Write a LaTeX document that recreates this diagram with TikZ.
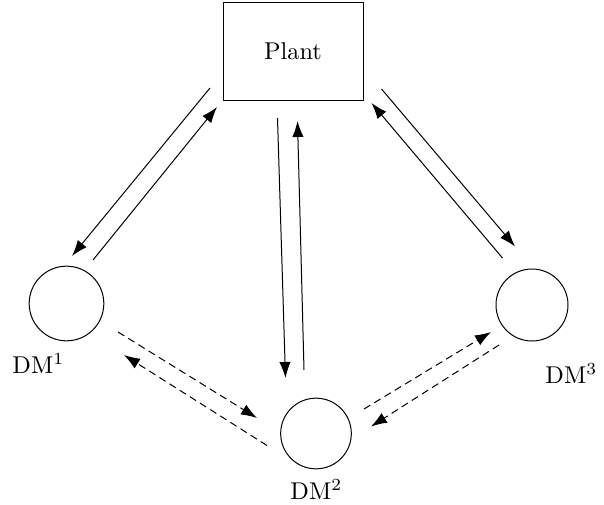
\documentclass[tikz,border=0pt]{standalone}
\usetikzlibrary{arrows.meta}

\tikzset{
  lbl/.style={scale=1.82, inner sep=0pt},
  dm/.style={circle, draw, line width=0.75pt, inner sep=0pt},
  flow/.style={line width=0.75pt, -{Latex[length=12pt,width=8.5pt]}},
  msg/.style={flow, dash pattern=on 5.5pt off 3.5pt}
}

\begin{document}
\begin{tikzpicture}[x=0.75pt, y=-0.75pt]
  \useasboundingbox (0,0) rectangle (604,504);

  % plant and decision makers
  \node[draw, line width=0.75pt, minimum width=105pt, minimum height=73.5pt,
        inner sep=0pt] (plant) at (293,51) {};
  \node[lbl] (pl) at (plant.center) {Plant};
  \node[dm, minimum size=56pt] (dm1) at (66.5,303.5) {};
  \node[dm, minimum size=53pt] (dm2) at (316,433.5) {};
  \node[dm, minimum size=54pt] (dm3) at (532,305) {};

  \node[lbl, anchor=base west] (l1) at (12,373) {DM$^1$};
  \node[lbl, anchor=base west] (l2) at (290,499) {DM$^2$};
  \node[lbl, anchor=base west] (l3) at (545,383) {DM$^3$};

  % end points of the links
  \coordinate (p1a) at (210,88);    \coordinate (d1a) at (72,256);
  \coordinate (d1b) at (93,260);    \coordinate (p1b) at (217,107);
  \coordinate (p2a) at (277.5,118); \coordinate (d2a) at (285.5,378);
  \coordinate (d2b) at (304,370);   \coordinate (p2b) at (297.5,121);
  \coordinate (p3a) at (381.5,89);  \coordinate (d3a) at (515,246.5);
  \coordinate (d3b) at (502.5,258); \coordinate (p3b) at (371.5,103);

  \coordinate (m12a) at (118,332);  \coordinate (m12b) at (257,418);
  \coordinate (m21a) at (267,445.5);\coordinate (m21b) at (124,355);
  \coordinate (m23a) at (364,409);  \coordinate (m23b) at (491,332);
  \coordinate (m32a) at (499,345);  \coordinate (m32b) at (371,426.5);

  % plant <-> decision makers
  \draw[flow] (p1a) -- (d1a);
  \draw[flow] (d1b) -- (p1b);
  \draw[flow] (p2a) -- (d2a);
  \draw[flow] (d2b) -- (p2b);
  \draw[flow] (p3a) -- (d3a);
  \draw[flow] (d3b) -- (p3b);

  % decision maker <-> decision maker
  \draw[msg] (m12a) -- (m12b);
  \draw[msg] (m21a) -- (m21b);
  \draw[msg] (m23a) -- (m23b);
  \draw[msg] (m32a) -- (m32b);
\end{tikzpicture}
\end{document}
